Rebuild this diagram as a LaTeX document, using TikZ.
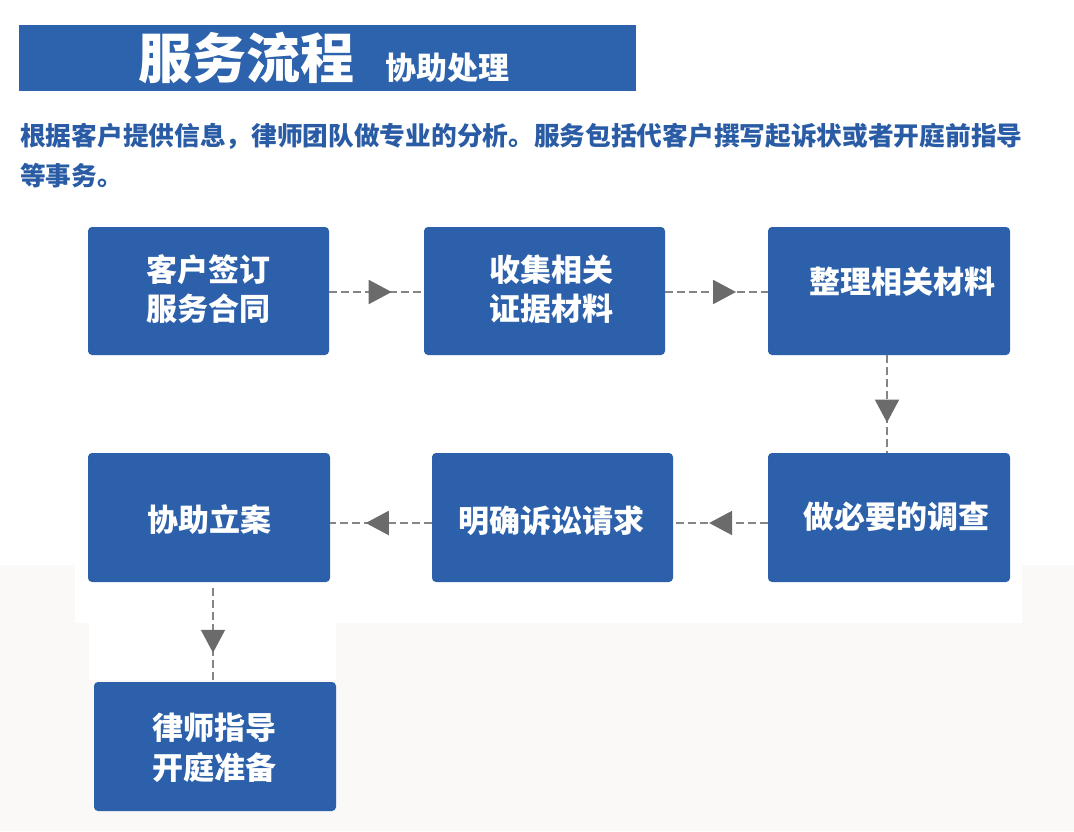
\documentclass[tikz,border=0pt]{standalone}
\usepackage{fontspec}
\setmainfont{Noto Sans CJK SC}
\usetikzlibrary{arrows.meta,decorations.markings}
\definecolor{boxblue}{HTML}{2C60AA}
\definecolor{hdrblue}{HTML}{2D62AC}
\definecolor{txtblue}{HTML}{2A5CA6}
\definecolor{arrgray}{HTML}{6B6B6B}
\definecolor{lingray}{HTML}{858585}
\definecolor{offwhite}{HTML}{FAF9F7}
\tikzset{
  stepbox/.style={rectangle, rounded corners=4pt, fill=boxblue, draw=none, inner sep=0pt},
  boxtext/.style={text=white, inner sep=0pt, align=center, font=\fontsize{31}{39.5}\selectfont\bfseries},
  conn/.style={draw=lingray, line width=2pt, dash pattern=on 8pt off 4pt,
    postaction={decorate},
    decoration={markings, mark=at position #1 with {\arrow{Triangle[length=23pt,width=24pt,color=arrgray,fill=arrgray]}}}},
  para/.style={text=txtblue, inner sep=0pt, anchor=west, font=\fontsize{25.7}{30}\selectfont\bfseries}
}
\begin{document}
\begin{tikzpicture}[x=1pt,y=-1pt]
\useasboundingbox (0,0) rectangle (1074,831);
\fill[white] (0,0) rectangle (1074,831);
\fill[offwhite] (0,565) rectangle (1074,831);
\fill[white] (75,565) rectangle (1022,623);
\fill[white] (89,623) rectangle (336,680);

% header
\node[fill=hdrblue, minimum width=617pt, minimum height=66pt, inner sep=0pt] (hdr) at (327.5,58) {};
\node[text=white, inner sep=0pt, font=\fontsize{54}{54}\selectfont\bfseries] (title) at (246,58) {服务流程};
\node[text=white, inner sep=0pt, font=\fontsize{31}{31}\selectfont\bfseries] (sub) at (447,68) {协助处理};

% paragraph
\node[para] (p1) at (20,136) {根据客户提供信息，律师团队做专业的分析。服务包括代客户撰写起诉状或者开庭前指导};
\node[para] (p2) at (20,176) {等事务。};

% boxes
\node[stepbox, minimum width=241pt, minimum height=128pt] (b1) at (208.5,291) {};
\node[stepbox, minimum width=241pt, minimum height=128pt] (b2) at (544.5,291) {};
\node[stepbox, minimum width=242pt, minimum height=128pt] (b3) at (889,291) {};
\node[stepbox, minimum width=242pt, minimum height=129pt] (b4) at (889,517.5) {};
\node[stepbox, minimum width=241pt, minimum height=129pt] (b5) at (552.5,517.5) {};
\node[stepbox, minimum width=242pt, minimum height=129pt] (b6) at (209,517.5) {};
\node[stepbox, minimum width=242pt, minimum height=129pt] (b7) at (215,746.5) {};

% box texts
\node[boxtext] (t1) at (208,289) {客户签订\\服务合同};
\node[boxtext] (t2) at (551,289) {收集相关\\证据材料};
\node[boxtext] (t3) at (902,282) {整理相关材料};
\node[boxtext] (t4) at (896,517) {做必要的调查};
\node[boxtext] (t5) at (551,521) {明确诉讼请求};
\node[boxtext] (t6) at (209,519) {协助立案};
\node[boxtext] (t7) at (214,748) {律师指导\\开庭准备};

% connectors
\draw[conn=0.66] ([yshift=-1pt]b1.east) -- ([yshift=-1pt]b2.west);
\draw[conn=0.69] ([yshift=-1pt]b2.east) -- ([yshift=-1pt]b3.west);
\draw[conn=0.69] ([xshift=-2pt]b3.south) -- ([xshift=-2pt]b4.north);
\draw[conn=0.62] ([yshift=-5.5pt]b4.west) -- ([yshift=-5.5pt]b5.east);
\draw[conn=0.65] ([yshift=-5.5pt]b5.west) -- ([yshift=-5.5pt]b6.east);
\draw[conn=0.69] ([xshift=4pt,yshift=-6pt]b6.south) -- ([xshift=-2pt]b7.north);
\end{tikzpicture}
\end{document}
